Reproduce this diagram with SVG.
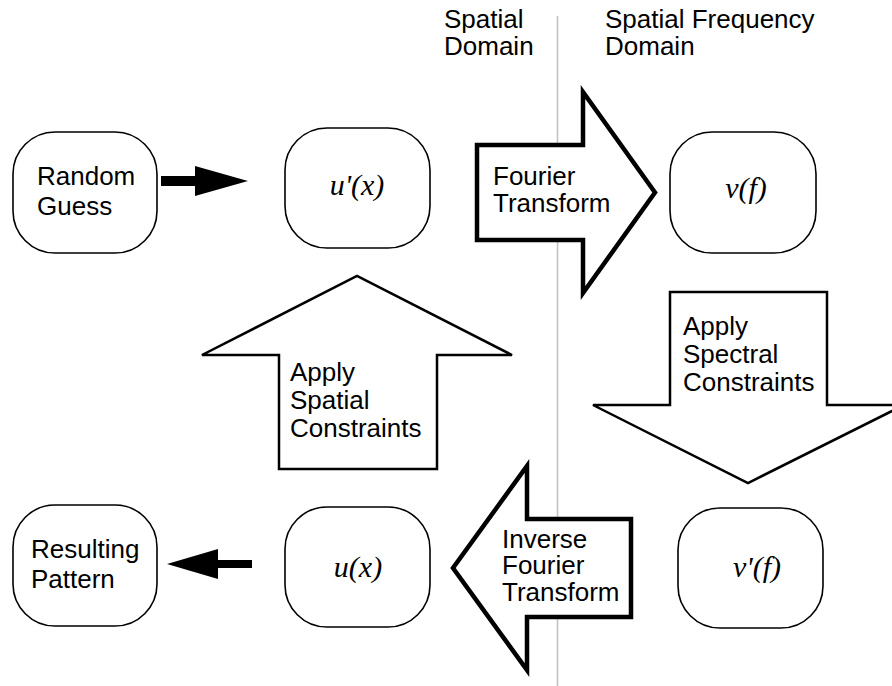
<svg xmlns="http://www.w3.org/2000/svg" width="892" height="686" viewBox="0 0 892 686">
<style>
.box{fill:#fff;stroke:#000;stroke-width:1.6}
.big{fill:#fff;stroke:#000;stroke-width:4.5;stroke-linejoin:miter}
.thin{fill:#fff;stroke:#000;stroke-width:2.5;stroke-linejoin:miter}
.t{font-family:"Liberation Sans",Arial,sans-serif;font-size:26px;fill:#000}
.m{font-family:"Liberation Serif","Times New Roman",serif;font-style:italic;font-size:30px;fill:#000;text-anchor:middle}
</style>
<rect width="892" height="686" fill="#fff"/>
<line x1="557.5" y1="16" x2="557.5" y2="686" stroke="#c4c4c4" stroke-width="1.6"/>
<g id="header">
<text class="t" x="444" y="28">Spatial</text>
<text class="t" x="444" y="55">Domain</text>
<text class="t" x="605" y="28">Spatial Frequency</text>
<text class="t" x="605" y="55">Domain</text>
</g>
<g id="connectors">
<polygon fill="#000" points="161,176 195,176 195,166 248,181 195,196 195,186 161,186"/>
<polygon fill="#000" points="252,560 218,560 218,549 167,564 218,579 218,568 252,568"/>
</g>
<g id="fourier">
<polygon class="big" points="477,145 583,145 583,92 655,192.5 583,293 583,240 477,240"/>
<text class="t" x="493" y="185">Fourier</text>
<text class="t" x="493" y="212">Transform</text>
</g>
<g id="inverse">
<polygon class="big" points="631,519 527,519 527,466 453,568 527,670 527,617 631,617"/>
<text class="t" x="502" y="548">Inverse</text>
<text class="t" x="502" y="574">Fourier</text>
<text class="t" x="502" y="601">Transform</text>
</g>
<g id="spatial">
<polygon class="thin" points="279,469 279,355 202,355 357,276 512,355 437,355 437,469"/>
<text class="t" x="290" y="381">Apply</text>
<text class="t" x="290" y="409">Spatial</text>
<text class="t" x="290" y="437">Constraints</text>
</g>
<g id="spectral">
<polygon class="thin" points="670,292 827,292 827,405 904,405 748,483 593,405 670,405"/>
<text class="t" x="683" y="335">Apply</text>
<text class="t" x="683" y="363">Spectral</text>
<text class="t" x="683" y="391">Constraints</text>
</g>
<g id="random">
<rect class="box" x="13" y="132" width="144" height="121" rx="42"/>
<text class="t" x="37" y="185">Random</text>
<text class="t" x="37" y="215">Guess</text>
</g>
<g id="uprime">
<rect class="box" x="285" y="128" width="145" height="120" rx="42"/>
<text class="m" x="357" y="195">u'(x)</text>
</g>
<g id="v">
<rect class="box" x="670" y="132" width="146" height="121" rx="42"/>
<text class="m" x="746" y="198">v(f)</text>
</g>
<g id="vprime">
<rect class="box" x="678" y="508" width="145" height="120" rx="42"/>
<text class="m" x="757" y="577">v'(f)</text>
</g>
<g id="u">
<rect class="box" x="285" y="507" width="145" height="120" rx="42"/>
<text class="m" x="358" y="577">u(x)</text>
</g>
<g id="result">
<rect class="box" x="13" y="505" width="144" height="121" rx="42"/>
<text class="t" x="31" y="558">Resulting</text>
<text class="t" x="31" y="588">Pattern</text>
</g>
</svg>
